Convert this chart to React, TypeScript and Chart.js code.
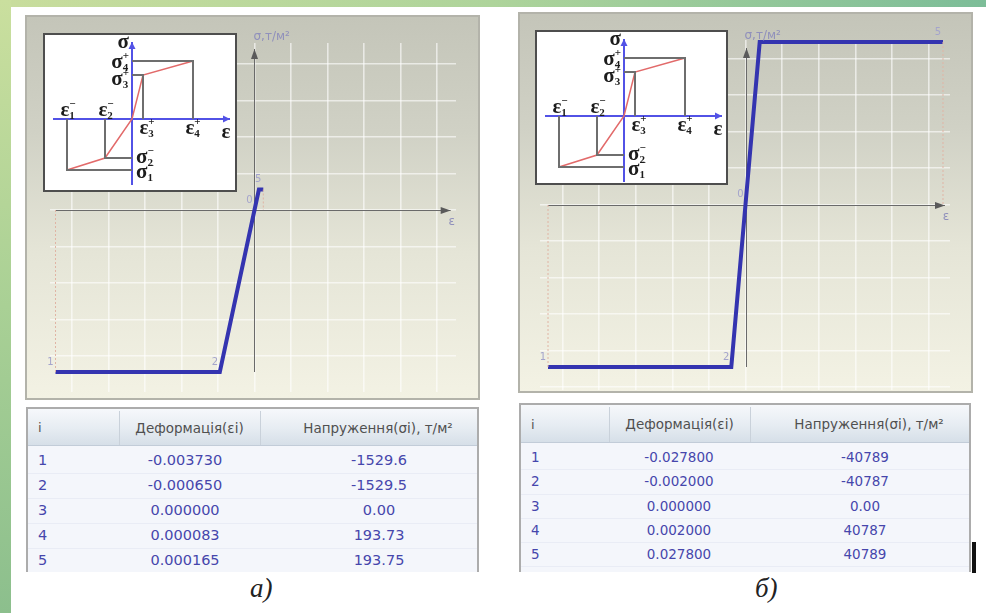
import React, { useEffect, useRef } from "react";
import { Chart, registerables } from "chart.js";
Chart.register(...registerables);

// ---------------- data ----------------
const POINT_INDEX = ["1", "2", "3", "4", "5"];
const POINT_TAGS = ["1", "2", "0", "", "5"];

const STRAIN_A = [-0.00373, -0.00065, 0.0, 0.000083, 0.000165];
const STRESS_A = [-1529.6, -1529.5, 0.0, 193.73, 193.75];
const STRAIN_TEXT_A = ["-0.003730", "-0.000650", "0.000000", "0.000083", "0.000165"];
const STRESS_TEXT_A = ["-1529.6", "-1529.5", "0.00", "193.73", "193.75"];

const STRAIN_B = [-0.0278, -0.002, 0.0, 0.002, 0.0278];
const STRESS_B = [-40789, -40787, 0.0, 40787, 40789];
const STRAIN_TEXT_B = ["-0.027800", "-0.002000", "0.000000", "0.002000", "0.027800"];
const STRESS_TEXT_B = ["-40789", "-40787", "0.00", "40787", "40789"];

// axis ranges / grid steps (data units)
const X_RANGE_A: [number, number] = [-0.003833, 0.003777];
const Y_RANGE_A: [number, number] = [-1718.4, 1576.8];
const X_STEP_A = 0.0006842;
const Y_STEP_A = 344.6;
const X_AXIS_END_A = 0.003677;
const Y_AXIS_TOP_A = 1520;

const X_RANGE_B: [number, number] = [-0.028927, 0.028786];
const Y_RANGE_B: [number, number] = [-46561, 41290];
const X_STEP_B = 0.005152;
const Y_STEP_B = 9162;
const X_AXIS_END_B = 0.028083;
const Y_AXIS_TOP_B = 39282;

// schematic diagram (inset), arbitrary units
const SCHEME_STRAIN = [-6.5, -2.7, 0, 1.1, 6.1];
const SCHEME_STRESS = [-5.1, -3.9, 0, 4.4, 5.8];
const SCHEME_AXIS_X: [number, number] = [-7.9, 9.8];
const SCHEME_AXIS_Y: [number, number] = [-6.6, 7.7];

const HEADERS = ["i", "Деформація(εi)", "Напруження(σi), т/м²"];
const AXIS_Y_TITLE = "σ,т/м²";
const AXIS_X_TITLE = "ε";

// ---------------- helpers ----------------
function stepTicks(step: number) {
  return (scale: any) => {
    const out: any[] = [];
    const k0 = Math.ceil(scale.min / step - 1e-9);
    const k1 = Math.floor(scale.max / step + 1e-9);
    for (let k = k0; k <= k1; k++) out.push({ value: k * step });
    scale.ticks = out;
  };
}

function arrow(ctx: CanvasRenderingContext2D, x1: number, y1: number, x2: number, y2: number, len: number, half: number) {
  ctx.beginPath();
  ctx.moveTo(x1, y1);
  ctx.lineTo(x2, y2);
  ctx.stroke();
  const a = Math.atan2(y2 - y1, x2 - x1);
  ctx.beginPath();
  ctx.moveTo(x2, y2);
  ctx.lineTo(x2 - len * Math.cos(a) + half * Math.sin(a), y2 - len * Math.sin(a) - half * Math.cos(a));
  ctx.lineTo(x2 - len * Math.cos(a) - half * Math.sin(a), y2 - len * Math.sin(a) + half * Math.cos(a));
  ctx.closePath();
  ctx.fill();
}

function sym(ctx: CanvasRenderingContext2D, base: string, sup: string, sub: string, x: number, yMid: number, align: string) {
  const bigFont = 'bold 21px "Liberation Serif", "DejaVu Serif", serif';
  const smallFont = 'bold 11px "Liberation Serif", "DejaVu Serif", serif';
  ctx.font = bigFont;
  const bw = ctx.measureText(base).width;
  ctx.font = smallFont;
  const sw = Math.max(sup ? ctx.measureText(sup).width : 0, sub ? ctx.measureText(sub).width : 0);
  const total = bw + sw;
  const left = align === "right" ? x - total : align === "center" ? x - total / 2 : x;
  const base_y = yMid + 5;
  ctx.textAlign = "left";
  ctx.textBaseline = "alphabetic";
  ctx.font = bigFont;
  ctx.fillText(base, left, base_y);
  ctx.font = smallFont;
  if (sup) ctx.fillText(sup, left + bw, base_y - 9);
  if (sub) ctx.fillText(sub, left + bw, base_y + 3);
}

// ---------------- main chart ----------------
type Pad = { left: number; right: number; top: number; bottom: number };

function MainChart(props: {
  strain: number[]; stress: number[];
  xRange: [number, number]; yRange: [number, number];
  xStep: number; yStep: number; xAxisEnd: number; yAxisTop: number;
  left: number; top: number; width: number; height: number; pad: Pad;
}) {
  const ref = useRef<HTMLCanvasElement>(null);
  useEffect(() => {
    const p = props;
    const decor = {
      id: "mainDecor",
      beforeDatasetsDraw(chart: any) {
        const { ctx, scales } = chart;
        const X = (v: number) => scales.x.getPixelForValue(v);
        const Y = (v: number) => scales.y.getPixelForValue(v);
        const x0 = X(0), y0 = Y(0);
        ctx.save();
        ctx.strokeStyle = "#6a6a6a";
        ctx.fillStyle = "#5a5a5a";
        ctx.lineWidth = 1;
        arrow(ctx, X(p.strain[0]), Math.round(y0) + 0.5, X(p.xAxisEnd), Math.round(y0) + 0.5, 10, 3.5);
        arrow(ctx, Math.round(x0) + 0.5, Y(p.stress[0]), Math.round(x0) + 0.5, Y(p.yAxisTop), 10, 3.5);
        ctx.restore();
      },
      afterDatasetsDraw(chart: any) {
        const { ctx, scales } = chart;
        const X = (v: number) => scales.x.getPixelForValue(v);
        const Y = (v: number) => scales.y.getPixelForValue(v);
        const x0 = X(0), y0 = Y(0);
        ctx.save();
        ctx.fillStyle = "#9090bc";
        ctx.font = '12px "DejaVu Sans", sans-serif';
        ctx.textAlign = "left";
        ctx.textBaseline = "middle";
        ctx.fillText(AXIS_Y_TITLE, x0 - 1, Y(p.yAxisTop) - 12);
        ctx.textAlign = "center";
        ctx.fillText(AXIS_X_TITLE, X(p.xAxisEnd) + 1, y0 + 12);
        ctx.fillStyle = "#a4a4cc";
        ctx.font = '10px "DejaVu Sans", sans-serif';
        p.strain.forEach((s, i) => {
          if (!POINT_TAGS[i]) return;
          ctx.fillText(POINT_TAGS[i], X(s) - 5, Y(p.stress[i]) - 10);
        });
        ctx.restore();
      },
    };
    const n = p.strain.length - 1;
    const gridOpts = { color: "rgba(255,255,255,0.6)", lineWidth: 1.6, drawTicks: false };
    const chart = new Chart(ref.current as HTMLCanvasElement, {
      type: "scatter",
      data: {
        datasets: [
          {
            data: [{ x: p.strain[0], y: p.stress[0] }, { x: p.strain[0], y: 0 }],
            showLine: true, borderColor: "#e0b4a4", borderWidth: 1, borderDash: [2, 2], pointRadius: 0,
          },
          {
            data: [{ x: p.strain[n], y: p.stress[n] }, { x: p.strain[n], y: 0 }],
            showLine: true, borderColor: "#e0b4a4", borderWidth: 1, borderDash: [2, 2], pointRadius: 0,
          },
          {
            data: p.strain.map((s, i) => ({ x: s, y: p.stress[i] })),
            showLine: true, borderColor: "#3434b0", borderWidth: 4, pointRadius: 0,
            borderJoinStyle: "miter", borderCapStyle: "butt",
          },
        ],
      } as any,
      options: {
        responsive: false,
        animation: false,
        events: [],
        layout: { padding: p.pad },
        plugins: { legend: { display: false }, tooltip: { enabled: false } },
        scales: {
          x: {
            type: "linear", min: p.xRange[0], max: p.xRange[1], bounds: "data",
            afterBuildTicks: stepTicks(p.xStep),
            ticks: { display: false }, border: { display: false }, grid: gridOpts,
          },
          y: {
            type: "linear", min: p.yRange[0], max: p.yRange[1], bounds: "data",
            afterBuildTicks: stepTicks(p.yStep),
            ticks: { display: false }, border: { display: false }, grid: gridOpts,
          },
        },
      } as any,
      plugins: [decor],
    });
    return () => chart.destroy();
  }, []);
  return (
    <canvas
      ref={ref}
      width={props.width}
      height={props.height}
      style={{ position: "absolute", left: props.left, top: props.top, width: props.width, height: props.height }}
    />
  );
}

// ---------------- inset schematic ----------------
function InsetChart(props: { left: number; top: number; width: number; height: number; xRange: [number, number]; yRange: [number, number] }) {
  const ref = useRef<HTMLCanvasElement>(null);
  useEffect(() => {
    const e = SCHEME_STRAIN, s = SCHEME_STRESS;
    const decor = {
      id: "insetDecor",
      beforeDatasetsDraw(chart: any) {
        const { ctx, scales } = chart;
        const X = (v: number) => scales.x.getPixelForValue(v);
        const Y = (v: number) => scales.y.getPixelForValue(v);
        ctx.save();
        ctx.strokeStyle = "#5252e6";
        ctx.fillStyle = "#5252e6";
        ctx.lineWidth = 2;
        arrow(ctx, X(SCHEME_AXIS_X[0]), Y(0), X(SCHEME_AXIS_X[1]), Y(0), 7, 3.5);
        arrow(ctx, X(0), Y(SCHEME_AXIS_Y[0]), X(0), Y(SCHEME_AXIS_Y[1]), 7, 3.5);
        ctx.restore();
      },
      afterDatasetsDraw(chart: any) {
        const { ctx, scales } = chart;
        const X = (v: number) => scales.x.getPixelForValue(v);
        const Y = (v: number) => scales.y.getPixelForValue(v);
        const x0 = X(0), y0 = Y(0);
        ctx.save();
        ctx.fillStyle = "#1c1c1c";
        sym(ctx, "σ", "", "", x0 - 3, Y(SCHEME_AXIS_Y[1]) + 1, "right");
        sym(ctx, "σ", "+", "4", x0 - 3, Y(s[4]) + 2, "right");
        sym(ctx, "σ", "+", "3", x0 - 3, Y(s[3]) + 5, "right");
        sym(ctx, "ε", "−", "1", X(e[0]) + 1, y0 - 8, "center");
        sym(ctx, "ε", "−", "2", X(e[1]) + 1, y0 - 8, "center");
        sym(ctx, "ε", "+", "3", X(e[3]) + 4, y0 + 10, "center");
        sym(ctx, "ε", "+", "4", X(e[4]), y0 + 10, "center");
        sym(ctx, "ε", "", "", X(SCHEME_AXIS_X[1]) - 4, y0 + 14, "center");
        sym(ctx, "σ", "−", "2", x0 + 4, Y(s[1]), "left");
        sym(ctx, "σ", "−", "1", x0 + 4, Y(s[0]) + 3, "left");
        ctx.restore();
      },
    };
    const gray = { showLine: true, borderColor: "#6e6e6e", borderWidth: 2, pointRadius: 0 };
    const chart = new Chart(ref.current as HTMLCanvasElement, {
      type: "scatter",
      data: {
        datasets: [
          { ...gray, data: [{ x: 0, y: s[4] }, { x: e[4], y: s[4] }, { x: e[4], y: 0 }] },
          { ...gray, data: [{ x: 0, y: s[3] }, { x: e[3], y: s[3] }, { x: e[3], y: 0 }] },
          { ...gray, data: [{ x: e[0], y: 0 }, { x: e[0], y: s[0] }, { x: 0, y: s[0] }] },
          { ...gray, data: [{ x: e[1], y: 0 }, { x: e[1], y: s[1] }, { x: 0, y: s[1] }] },
          {
            data: e.map((v, i) => ({ x: v, y: s[i] })),
            showLine: true, borderColor: "#e26a6a", borderWidth: 1.5, pointRadius: 0,
          },
        ],
      } as any,
      options: {
        responsive: false,
        animation: false,
        events: [],
        layout: { padding: 0 },
        plugins: { legend: { display: false }, tooltip: { enabled: false } },
        scales: {
          x: { type: "linear", display: false, min: props.xRange[0], max: props.xRange[1], bounds: "data" },
          y: { type: "linear", display: false, min: props.yRange[0], max: props.yRange[1], bounds: "data" },
        },
      } as any,
      plugins: [decor],
    });
    return () => chart.destroy();
  }, []);
  return (
    <div
      style={{
        position: "absolute", left: props.left - 2, top: props.top - 2,
        width: props.width, height: props.height, border: "2px solid #4e4e4e", background: "#fff",
      }}
    >
      <canvas ref={ref} width={props.width} height={props.height} style={{ display: "block", width: props.width, height: props.height }} />
    </div>
  );
}

// ---------------- table ----------------
function DataTable(props: {
  left: number; top: number; width: number; height: number; headerH: number;
  div1: number; div2: number; hc2: number; hc3: number; vc2: number; vc3: number;
  rowTop: number; rowH: number; strainText: string[]; stressText: string[]; valueSize: number;
}) {
  const p = props;
  const abs: any = { position: "absolute" };
  return (
    <div
      style={{
        ...abs, left: p.left, top: p.top, width: p.width - 4, height: p.height - 2,
        borderLeft: "2px solid #acacac", borderRight: "2px solid #acacac", borderTop: "2px solid #acacac",
        background: "#f4f6fb", overflow: "hidden", fontFamily: '"DejaVu Sans", sans-serif',
      }}
    >
      <div
        style={{
          ...abs, left: 0, top: 0, width: "100%", height: p.headerH,
          background: "linear-gradient(180deg, #f6f8fb 0%, #e6ecf2 55%, #d6dfe8 100%)",
          borderBottom: "1px solid #c2ccd8",
        }}
      />
      <div style={{ ...abs, left: p.div1, top: 2, width: 1, height: p.headerH - 2, background: "#c9d1da" }} />
      <div style={{ ...abs, left: p.div2, top: 2, width: 1, height: p.headerH - 2, background: "#c9d1da" }} />
      <div style={{ ...abs, left: 10, top: 0, height: p.headerH, lineHeight: p.headerH + 2 + "px", fontSize: 13, color: "#555" }}>{HEADERS[0]}</div>
      <div style={{ ...abs, left: p.hc2 - 100, width: 200, textAlign: "center", top: 0, height: p.headerH, lineHeight: p.headerH + 2 + "px", fontSize: 13.5, color: "#505050" }}>{HEADERS[1]}</div>
      <div style={{ ...abs, left: p.hc3 - 120, width: 240, textAlign: "center", top: 0, height: p.headerH, lineHeight: p.headerH + 2 + "px", fontSize: 13.5, color: "#505050" }}>{HEADERS[2]}</div>
      {POINT_INDEX.map((idx, i) => (
        <React.Fragment key={idx}>
          <div
            style={{
              ...abs, left: 0, top: p.rowTop + i * p.rowH, width: "100%", height: p.rowH,
              borderBottom: "1px solid rgba(222,226,240,0.5)",
            }}
          />
          <div style={{ ...abs, left: 10, top: p.rowTop + i * p.rowH, height: p.rowH, lineHeight: p.rowH + "px", fontSize: p.valueSize, color: "#4646ac" }}>{idx}</div>
          <div style={{ ...abs, left: p.vc2 - 80, width: 160, textAlign: "center", top: p.rowTop + i * p.rowH, height: p.rowH, lineHeight: p.rowH + "px", fontSize: p.valueSize, color: "#4646ac" }}>{p.strainText[i]}</div>
          <div style={{ ...abs, left: p.vc3 - 80, width: 160, textAlign: "center", top: p.rowTop + i * p.rowH, height: p.rowH, lineHeight: p.rowH + "px", fontSize: p.valueSize, color: "#4646ac" }}>{p.stressText[i]}</div>
        </React.Fragment>
      ))}
    </div>
  );
}

function Frame(props: { left: number; top: number; width: number; height: number }) {
  return (
    <div
      style={{
        position: "absolute", left: props.left, top: props.top, width: props.width - 4, height: props.height - 4,
        border: "2px solid #b3b3aa",
        background: "linear-gradient(180deg, #c4c5b9 0%, #d0d1c5 30%, #e5e5d7 62%, #f3f2e4 100%)",
      }}
    />
  );
}

export default function App() {
  return (
    <div
      style={{
        position: "absolute", left: 0, top: 0, width: 986, height: 613, background: "#ffffff",
        overflow: "hidden", fontFamily: '"DejaVu Sans", sans-serif',
      }}
    >
      <div style={{ position: "absolute", left: 0, top: 0, width: 986, height: 7, background: "linear-gradient(90deg, #c9dd9d 0%, #aed49b 50%, #7cbd98 100%)" }} />
      <div style={{ position: "absolute", left: 0, top: 0, width: 11, height: 613, background: "linear-gradient(180deg, #cadf9e 0%, #a9d095 50%, #8cbf8d 100%)" }} />

      {/* panel a */}
      <Frame left={25} top={15} width={455} height={385} />
      <MainChart
        strain={STRAIN_A} stress={STRESS_A} xRange={X_RANGE_A} yRange={Y_RANGE_A}
        xStep={X_STEP_A} yStep={Y_STEP_A} xAxisEnd={X_AXIS_END_A} yAxisTop={Y_AXIS_TOP_A}
        left={27} top={17} width={451} height={381} pad={{ left: 23, right: 22, top: 26, bottom: 6 }}
      />
      <InsetChart left={45} top={35} width={190} height={155} xRange={[-8.7, 10.3]} yRange={[-7.1, 8.4]} />
      <DataTable
        left={26} top={407} width={453} height={165} headerH={36}
        div1={91} div2={232} hc2={161.5} hc3={350} vc2={157} vc3={351}
        rowTop={39} rowH={25} strainText={STRAIN_TEXT_A} stressText={STRESS_TEXT_A} valueSize={14.5}
      />
      <div style={{ position: "absolute", left: 250, top: 575, fontFamily: '"Liberation Serif", serif', fontStyle: "italic", fontSize: 27, lineHeight: "26px", color: "#222" }}>а)</div>

      {/* panel b */}
      <Frame left={518} top={12} width={455} height={381} />
      <MainChart
        strain={STRAIN_B} stress={STRESS_B} xRange={X_RANGE_B} yRange={Y_RANGE_B}
        xStep={X_STEP_B} yStep={Y_STEP_B} xAxisEnd={X_AXIS_END_B} yAxisTop={Y_AXIS_TOP_B}
        left={520} top={14} width={451} height={377} pad={{ left: 20, right: 21, top: 26, bottom: 1 }}
      />
      <InsetChart left={537} top={32} width={189} height={151} xRange={[-8.7, 10.2]} yRange={[-6.7, 8.4]} />
      <DataTable
        left={519} top={403} width={452} height={169} headerH={37}
        div1={88} div2={229} hc2={158.5} hc3={348} vc2={158} vc3={344}
        rowTop={40} rowH={24.3} strainText={STRAIN_TEXT_B} stressText={STRESS_TEXT_B} valueSize={13.5}
      />
      <div style={{ position: "absolute", left: 755, top: 575, fontFamily: '"Liberation Serif", serif', fontStyle: "italic", fontSize: 27, lineHeight: "26px", color: "#222" }}>б)</div>
      <div style={{ position: "absolute", left: 972, top: 542, width: 4, height: 31, background: "#111" }} />
    </div>
  );
}
